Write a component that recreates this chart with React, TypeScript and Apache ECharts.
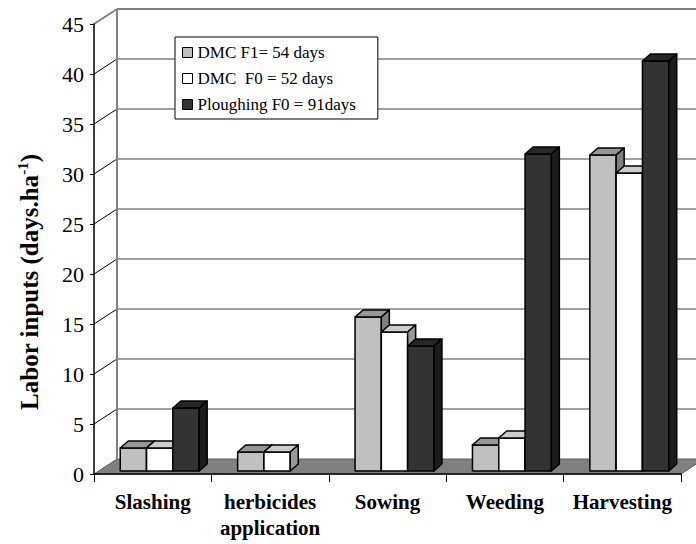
import React, { useEffect, useRef } from 'react';
import * as echarts from 'echarts';

// Labour inputs per field operation (days per hectare)
const categories = ['Slashing', 'herbicides\napplication', 'Sowing', 'Weeding', 'Harvesting'];
const seriesNames = ['DMC F1= 54 days', 'DMC  F0 = 52 days', 'Ploughing F0 = 91days'];
const dmcF1 = [2.3, 1.9, 15.4, 2.6, 31.6];
const dmcF0 = [2.3, 1.9, 13.9, 3.3, 29.8];
const ploughing = [6.3, 0, 12.5, 31.7, 41.0];
const yTicks = [0, 5, 10, 15, 20, 25, 30, 35, 40, 45];

const seriesValues = [dmcF1, dmcF0, ploughing];

const faceColors = [
  { front: '#C0C0C0', top: '#969696', side: '#808080' },
  { front: '#FFFFFF', top: '#CCCCCC', side: '#999999' },
  { front: '#333333', top: '#262626', side: '#1C1C1C' },
];

const SERIF = '"Liberation Serif", "Times New Roman", serif';

// pseudo-3D geometry (pixels)
const WALL_DX = 23;
const WALL_DY = -15;
const BAR_DX = 8;
const BAR_DY = -7;
const BAR_OX = 7;
const BAR_OY = -3;
const BAR_FRAC = 0.224;

function barRenderer(k: number) {
  return (params: any, api: any) => {
    const cat = api.value(0);
    const v = api.value(1);
    if (!(v > 0)) return { type: 'group', children: [] };
    const base = api.coord([cat, 0]);
    const top = api.coord([cat, v]);
    const band = api.size([1, 0])[0];
    const w = band * BAR_FRAC;
    const x0 = base[0] - 1.5 * w + k * w + BAR_OX;
    const x1 = x0 + w;
    const yb = base[1] + BAR_OY;
    const yt = top[1] + BAR_OY;
    const c = faceColors[k];
    const stroke = { stroke: '#000', lineWidth: 1.5, lineJoin: 'round' };
    return {
      type: 'group',
      children: [
        {
          type: 'polygon',
          shape: { points: [[x0, yb], [x0, yt], [x1, yt], [x1, yb]] },
          style: { fill: c.front, ...stroke },
        },
        {
          type: 'polygon',
          shape: { points: [[x0, yt], [x0 + BAR_DX, yt + BAR_DY], [x1 + BAR_DX, yt + BAR_DY], [x1, yt]] },
          style: { fill: c.top, ...stroke },
        },
        {
          type: 'polygon',
          shape: { points: [[x1, yt], [x1 + BAR_DX, yt + BAR_DY], [x1 + BAR_DX, yb + BAR_DY], [x1, yb]] },
          style: { fill: c.side, ...stroke },
        },
      ],
    };
  };
}

// floor, left wall and back wall grid drawn from the value axis ticks
function frameRenderer(params: any, api: any) {
  const v = api.value(1);
  const p = api.coord([0, v]);
  const zero = api.coord([0, 0]);
  const band = api.size([1, 0])[0];
  const xl = p[0] - band / 2;
  const xr = xl + band * categories.length;
  const y = p[1];
  const children: any[] = [];
  if (v === 0) {
    children.push({
      type: 'polygon',
      shape: { points: [[xl, y], [xl + WALL_DX, y + WALL_DY], [xr + WALL_DX, y + WALL_DY], [xr, y]] },
      style: { fill: '#808080', stroke: '#606060', lineWidth: 1 },
    });
  } else {
    const isTop = v === yTicks[yTicks.length - 1];
    children.push({
      type: 'line',
      shape: { x1: xl + WALL_DX, y1: y + WALL_DY, x2: xr + WALL_DX, y2: y + WALL_DY },
      style: { stroke: '#808080', lineWidth: isTop ? 2 : 1.5 },
    });
    children.push({
      type: 'line',
      shape: { x1: xl, y1: y, x2: xl + WALL_DX, y2: y + WALL_DY },
      style: { stroke: isTop ? '#808080' : '#000', lineWidth: isTop ? 2 : 1 },
    });
    if (isTop) {
      children.push({
        type: 'line',
        shape: { x1: xl + WALL_DX, y1: y + WALL_DY, x2: xl + WALL_DX, y2: zero[1] + WALL_DY },
        style: { stroke: '#808080', lineWidth: 2 },
      });
    }
  }
  return { type: 'group', children };
}

export default function App() {
  const ref = useRef<HTMLDivElement>(null);

  useEffect(() => {
    if (!ref.current) return;
    const chart = echarts.init(ref.current, undefined, { renderer: 'svg' });
    const option: any = {
      animation: false,
      backgroundColor: '#fff',
      grid: { left: 94, top: 24, width: 587, height: 450 },
      xAxis: {
        type: 'category',
        data: categories,
        z: 5,
        axisLine: { lineStyle: { color: '#000', width: 1.5 } },
        axisTick: { show: true, length: 8, lineStyle: { color: '#000', width: 1 } },
        axisLabel: {
          color: '#000',
          fontFamily: SERIF,
          fontWeight: 'bold',
          fontSize: 21,
          lineHeight: 26,
          margin: 15,
          interval: 0,
        },
        splitLine: { show: false },
      },
      yAxis: {
        type: 'value',
        min: 0,
        max: 45,
        interval: 5,
        z: 5,
        axisLine: { show: true, lineStyle: { color: '#000', width: 1.5 } },
        axisTick: { show: true, length: 4, lineStyle: { color: '#000', width: 1 } },
        axisLabel: { color: '#000', fontFamily: SERIF, fontSize: 22, margin: 10 },
        splitLine: { show: false },
      },
      legend: {
        orient: 'vertical',
        left: 175,
        top: 37,
        selectedMode: false,
        data: seriesNames.map((n, i) => ({
          name: n,
          icon: 'rect',
          itemStyle: { color: faceColors[i].front, borderColor: '#000', borderWidth: 1 },
        })),
        itemWidth: 10,
        itemHeight: 10,
        itemGap: 9,
        textStyle: { fontFamily: SERIF, fontSize: 17, color: '#000' },
        backgroundColor: '#fff',
        borderColor: '#000',
        borderWidth: 1,
        borderRadius: 0,
        padding: [7, 22, 6, 7],
      },
      graphic: [
        {
          type: 'text',
          x: 29,
          y: 282,
          rotation: Math.PI / 2,
          style: {
            text: '{m|Labor inputs (days.ha}{s|-1}{m|)}',
            align: 'center',
            verticalAlign: 'middle',
            rich: {
              m: { fontFamily: SERIF, fontWeight: 'bold', fontSize: 25, fill: '#000', lineHeight: 28 },
              s: { fontFamily: SERIF, fontWeight: 'bold', fontSize: 15, fill: '#000', verticalAlign: 'top', lineHeight: 28 },
            },
          },
        },
      ],
      series: [
        {
          type: 'custom',
          name: 'frame',
          silent: true,
          z: 1,
          renderItem: frameRenderer,
          data: yTicks.map((v) => [0, v]),
          clip: false,
        },
        ...seriesNames.map((name, k) => ({
          type: 'custom',
          name,
          z: 2,
          itemStyle: { color: faceColors[k].front },
          renderItem: barRenderer(k),
          data: seriesValues[k].map((v, i) => [i, v]),
          clip: false,
        })),
      ],
    };
    chart.setOption(option);
    return () => chart.dispose();
  }, []);

  return <div ref={ref} style={{ position: 'absolute', left: 0, top: 0, width: 696, height: 544 }} />;
}
